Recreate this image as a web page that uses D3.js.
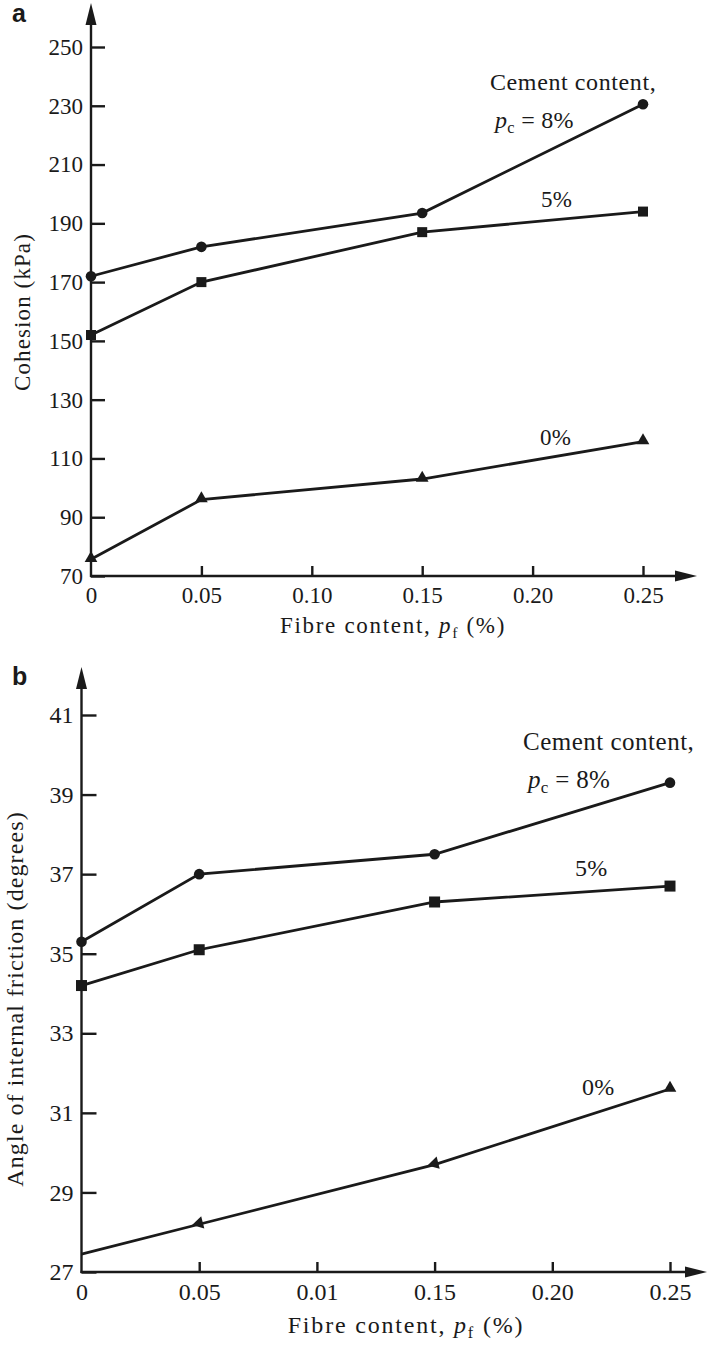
<!DOCTYPE html>
<html>
<head>
<meta charset="utf-8">
<script src="https://cdn.jsdelivr.net/npm/d3@7"></script>
<style>
  body { margin: 0; background: #fff; }
  svg { display: block; }
</style>
</head>
<body>
<svg id="chart" width="709" height="1348"></svg>
<script>
// fibre content (%) at the test points
var fibre = [0, 0.05, 0.15, 0.25];

// panel a, cohesion (kPa)
var cohesion8 = [172, 182, 193.5, 230.5];
var cohesion5 = [152, 170, 187, 194];
var cohesion0 = [75.7, 96, 103, 115.7];

// panel b, angle of internal friction (degrees)
var friction8 = [35.3, 37.0, 37.5, 39.3];
var friction5 = [34.2, 35.1, 36.3, 36.7];
var friction0 = [27.45, 28.2, 29.7, 31.6];

var cohesionTicks = [70, 90, 110, 130, 150, 170, 190, 210, 230, 250];
var frictionTicks = [27, 29, 31, 33, 35, 37, 39, 41];
var fibreTicks = [0, 0.05, 0.10, 0.15, 0.20, 0.25];
var fibreLabelsA = ["0", "0.05", "0.10", "0.15", "0.20", "0.25"];
var fibreLabelsB = ["0", "0.05", "0.01", "0.15", "0.20", "0.25"];

var ink = "#1a1a1a";
var serif = "'Liberation Serif', 'Times New Roman', serif";
var svg = d3.select("#chart");

function drawPanel(cfg) {
  var x = d3.scaleLinear().domain([0, 0.25]).range([cfg.left, cfg.right]);
  var y = d3.scaleLinear().domain(cfg.yDomain).range([cfg.bottom, cfg.top]);
  var g = svg.append("g");
  var fs = cfg.fontSize;

  // y axis, ticks pointing inward
  var yAxis = g.append("g")
    .attr("transform", "translate(" + cfg.left + ",0)")
    .call(d3.axisLeft(y).tickValues(cfg.yTicks).tickSizeInner(-cfg.yTickLen).tickSizeOuter(0).tickPadding(8));
  yAxis.select(".domain").remove();
  yAxis.selectAll("line").attr("stroke", ink).attr("stroke-width", 2.4);
  yAxis.selectAll("text").style("font-size", fs + "px").style("font-family", serif).attr("fill", ink);

  // x axis, ticks pointing up
  var xAxis = g.append("g")
    .attr("transform", "translate(0," + cfg.bottom + ")")
    .call(d3.axisBottom(x).tickValues(fibreTicks).tickSizeInner(-10).tickSizeOuter(0).tickPadding(11)
      .tickFormat(function(d, i) { return cfg.xLabels[i]; }));
  xAxis.select(".domain").remove();
  xAxis.selectAll("line").attr("stroke", ink).attr("stroke-width", 2.4);
  xAxis.selectAll("text").style("font-size", fs + "px").style("font-family", serif).attr("fill", ink);
  xAxis.selectAll(".tick").filter(function(d) { return d == 0; }).select("line").remove();

  // axis lines with arrow heads
  g.append("line")
    .attr("x1", cfg.left).attr("y1", cfg.bottom + 1)
    .attr("x2", cfg.left).attr("y2", cfg.yArrow + 10)
    .attr("stroke", ink).attr("stroke-width", 2.4);
  g.append("path")
    .attr("d", "M" + cfg.left + "," + cfg.yArrow + "l-5.5,22l11,0z")
    .attr("fill", ink);
  g.append("line")
    .attr("x1", cfg.left - 1).attr("y1", cfg.bottom)
    .attr("x2", cfg.xArrow - 10).attr("y2", cfg.bottom)
    .attr("stroke", ink).attr("stroke-width", 2.4);
  g.append("path")
    .attr("d", "M" + cfg.xArrow + "," + cfg.bottom + "l-22,-5.5l0,11z")
    .attr("fill", ink);

  // series lines
  var line = d3.line()
    .x(function(d, i) { return x(fibre[i]); })
    .y(function(d) { return y(d); });

  cfg.series.forEach(function(s) {
    g.append("path")
      .attr("d", line(s.values))
      .attr("fill", "none")
      .attr("stroke", ink)
      .attr("stroke-width", 2.8);

    s.values.forEach(function(v, i) {
      var px = x(fibre[i]), py = y(v);
      if (s.shape == "circle") {
        g.append("circle").attr("cx", px).attr("cy", py).attr("r", 5.3).attr("fill", ink);
      } else if (s.shape == "square") {
        g.append("rect").attr("x", px - cfg.sq / 2).attr("y", py - cfg.sq / 2)
          .attr("width", cfg.sq).attr("height", cfg.sq).attr("fill", ink);
      } else {
        if (s.skipFirst && i == 0) return;
        var rot = 0;
        if (s.pointBack && i > 0 && i < s.values.length - 1) {
          var ang = Math.atan2(y(s.values[i - 1]) - py, x(fibre[i - 1]) - px) * 180 / Math.PI;
          rot = ang + 90;
        }
        g.append("path")
          .attr("d", d3.symbol(d3.symbolTriangle, 70)())
          .attr("transform", "translate(" + px + "," + (py - 1) + ") rotate(" + rot + ")")
          .attr("fill", ink);
      }
    });
  });

  // series labels, placed from the last point
  var xe = x(0.25);
  cfg.labels.forEach(function(l) {
    var s = cfg.series[l.series];
    var t = g.append("text")
      .attr("x", xe + l.dx)
      .attr("y", y(s.values[s.values.length - 1]) + l.dy)
      .attr("fill", ink)
      .style("font-family", serif)
      .style("font-size", l.size + "px")
      .style("letter-spacing", l.spacing + "px");
    if (l.sub) {
      t.append("tspan").style("font-style", "italic").text(l.main);
      t.append("tspan").style("font-size", (l.size * 0.68) + "px").attr("dy", 5).text(l.sub);
      t.append("tspan").attr("dy", -5).text(l.rest);
    } else {
      t.text(l.main);
    }
  });

  // axis titles
  var xt = g.append("text")
    .attr("x", cfg.xTitle[0]).attr("y", cfg.xTitle[1])
    .attr("text-anchor", "middle")
    .attr("fill", ink)
    .style("font-family", serif)
    .style("font-size", fs + "px")
    .style("letter-spacing", cfg.titleSpacing + "px");
  xt.append("tspan").text("Fibre content, ");
  xt.append("tspan").style("font-style", "italic").text("p");
  xt.append("tspan").style("font-size", (fs * 0.68) + "px").attr("dy", 5).text("f");
  xt.append("tspan").attr("dy", -5).text(" (%)");

  g.append("text")
    .attr("transform", "translate(" + cfg.yTitle[0] + "," + cfg.yTitle[1] + ") rotate(-90)")
    .attr("text-anchor", "middle")
    .attr("fill", ink)
    .style("font-family", serif)
    .style("font-size", fs + "px")
    .style("letter-spacing", "1.1px")
    .text(cfg.yTitleText);

  // panel letter
  g.append("text")
    .attr("x", 12).attr("y", cfg.letterY)
    .attr("fill", ink)
    .style("font-family", "'Liberation Sans', Arial, sans-serif")
    .style("font-weight", "bold")
    .style("font-size", "25px")
    .text(cfg.letter);
}

drawPanel({
  letter: "a", letterY: 21.5,
  left: 91, right: 643, top: 47, bottom: 576,
  yArrow: 3, xArrow: 697, yTickLen: 14, sq: 10,
  yDomain: [70, 250], yTicks: cohesionTicks, xLabels: fibreLabelsA,
  fontSize: 23, titleSpacing: 1.7,
  xTitle: [393, 633], yTitle: [30, 312], yTitleText: "Cohesion (kPa)",
  series: [
    { values: cohesion8, shape: "circle" },
    { values: cohesion5, shape: "square" },
    { values: cohesion0, shape: "triangle" }
  ],
  labels: [
    { series: 0, dx: -153, dy: -14.5, size: 24, spacing: 0.6, main: "Cement content," },
    { series: 0, dx: -148, dy: 23.5, size: 24, spacing: 0.3, main: "p", sub: "c", rest: " = 8%" },
    { series: 1, dx: -102, dy: -5, size: 23, spacing: 0.3, main: "5%" },
    { series: 2, dx: -103, dy: 3.5, size: 23, spacing: 0.3, main: "0%" }
  ]
});

drawPanel({
  letter: "b", letterY: 685,
  left: 81.5, right: 670, top: 715, bottom: 1272,
  yArrow: 667, xArrow: 707, yTickLen: 15, sq: 11,
  yDomain: [27, 41], yTicks: frictionTicks, xLabels: fibreLabelsB,
  fontSize: 24, titleSpacing: 1.8,
  xTitle: [406, 1333], yTitle: [23, 999], yTitleText: "Angle of internal friction (degrees)",
  series: [
    { values: friction8, shape: "circle" },
    { values: friction5, shape: "square" },
    { values: friction0, shape: "triangle", skipFirst: true, pointBack: true }
  ],
  labels: [
    { series: 0, dx: -147, dy: -32.6, size: 25, spacing: 0.5, main: "Cement content," },
    { series: 0, dx: -142, dy: 5.5, size: 25, spacing: 0.3, main: "p", sub: "c", rest: " = 8%" },
    { series: 1, dx: -95, dy: -10, size: 24, spacing: 0.3, main: "5%" },
    { series: 2, dx: -88, dy: 6, size: 24, spacing: 0.3, main: "0%" }
  ]
});
</script>
</body>
</html>
